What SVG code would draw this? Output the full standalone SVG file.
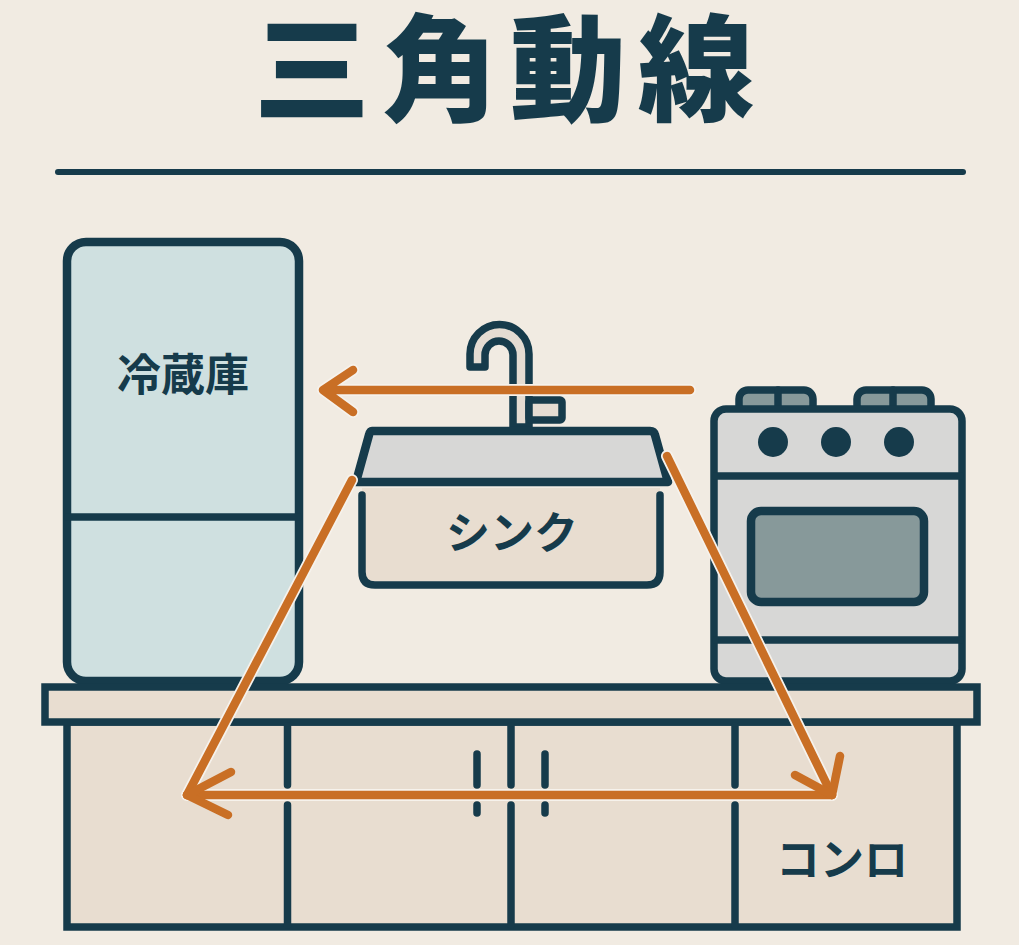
<svg xmlns="http://www.w3.org/2000/svg" width="1019" height="945" viewBox="0 0 1019 945">
<style>
.d{stroke:#163b4b;stroke-linecap:round;stroke-linejoin:round;fill:none}
.w7{stroke-width:7.500}.w8{stroke-width:8.500}
.t{font-family:"Noto Sans CJK JP","Noto Sans CJK SC",sans-serif;fill:#163b4b;text-anchor:middle;font-weight:700}
.k{fill:#163b4b}
.halo{fill:none;stroke:#f6f2ec;stroke-width:12;stroke-linecap:round;stroke-linejoin:round}
.arrow{fill:none;stroke:#c96f25;stroke-width:8.500;stroke-linecap:round;stroke-linejoin:round}
</style>
<rect width="1019" height="945" fill="#f1ebe2"/>
<g id="title">
<text class="t" x="510" y="112" font-size="116" style="font-weight:900" letter-spacing="12">三角動線</text>
<line class="d" x1="58" y1="172" x2="963" y2="172" stroke-width="6"/>
</g>
<g id="fridge">
<rect x="67" y="242" width="232" height="439" rx="19" class="d w8" style="fill:#cfe0e0"/>
<line class="d w7" x1="68" y1="517" x2="298" y2="517"/>
<text class="t" x="183" y="391" font-size="44">冷蔵庫</text>
</g>
<g id="stove">
<rect x="739" y="390" width="74" height="24" rx="9" class="d w7" style="fill:#87999a"/>
<line class="d w7" x1="778" y1="390" x2="778" y2="408"/>
<rect x="857" y="390" width="74" height="24" rx="9" class="d w7" style="fill:#87999a"/>
<line class="d w7" x1="893" y1="390" x2="893" y2="408"/>
<rect x="714" y="409" width="248" height="272" rx="12" class="d w7" style="fill:#d7d7d6"/>
<line class="d w7" x1="716" y1="476" x2="960" y2="476"/>
<line class="d w7" x1="716" y1="640" x2="960" y2="640"/>
<circle class="k" cx="773" cy="442" r="15"/>
<circle class="k" cx="836" cy="442" r="15"/>
<circle class="k" cx="899" cy="442" r="15"/>
<rect x="751" y="511" width="173" height="91" rx="10" class="d w8" style="fill:#87999a"/>
</g>
<g id="counter">
<rect x="67" y="722" width="890" height="205" class="d w7" style="fill:#e8ddd0;stroke-linejoin:miter"/>
<rect x="45" y="687" width="932" height="35" class="d w7" style="fill:#e8ddd0;stroke-linejoin:miter"/>
<path class="d w7" d="M287.500 726V785M287.500 805V925M511 726V785M511 805V925M735 726V785M735 805V925"/>
<path class="d w7" d="M477 754V785M477 805V813M545 754V785M545 805V813"/>
<text class="t" x="842" y="876" font-size="44">コンロ</text>
</g>
<g id="sink">
<path d="M513 427V355A14 14 0 0 0 485 355V367H470V354A29.500 29.500 0 0 1 529 354V427Z" class="d w7" style="fill:#e4dcd2"/>
<rect x="529" y="400" width="33" height="20" rx="2" class="d w7" style="fill:#e4dcd2"/>
<path d="M372 431H650Q654 431 655 435L668 482H356L369 435Q370 431 372 431Z" class="d w8" style="fill:#d7d7d6"/>
<path d="M362 488V572Q362 585 375 585H647Q660 585 660 572V488Z" fill="#e8ddd0"/>
<path d="M362 495V572Q362 585 375 585H647Q660 585 660 572V495" class="d w7"/>
<text class="t" x="512" y="549" font-size="44">シンク</text>
</g>
<g id="connectors">
<path class="halo" d="M690 390H323M353 370L323 390L353 412"/>
<path class="halo" d="M352 480L187 795M187 795H832M667 456L832 795"/>
<path class="arrow" d="M690 390H323M353 370L323 390L353 412"/>
<path class="arrow" d="M352 480L187 795"/>
<path class="arrow" d="M667 456L832 795"/>
<path class="arrow" d="M832 795H187"/>
<path class="arrow" d="M231 772L187 795L228 815"/>
<path class="arrow" d="M840 756L832 795L795 775"/>
</g>
</svg>
